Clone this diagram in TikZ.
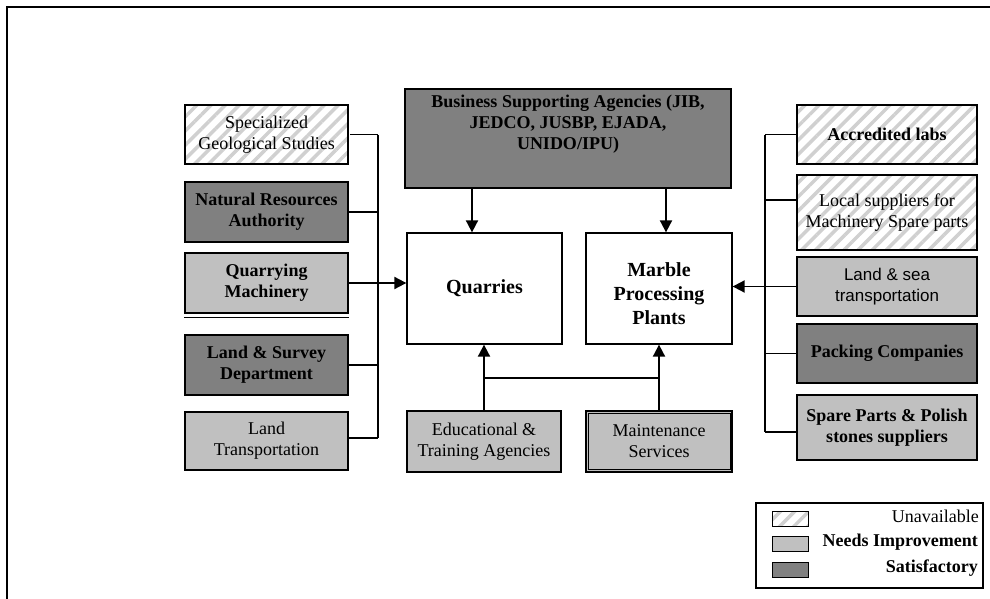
\documentclass[tikz,border=0pt]{standalone}
\usepackage{fontspec}
\setmainfont{Liberation Serif}
\newfontfamily\arialf{Liberation Sans}
\usetikzlibrary{arrows.meta,patterns.meta,calc}
\definecolor{darkg}{RGB}{128,128,128}
\definecolor{lightg}{RGB}{192,192,192}
\definecolor{hatchg}{RGB}{208,208,208}
\begin{document}
\begin{tikzpicture}[x=1pt,y=-1pt,
  box/.style={draw, line width=1.3pt, inner sep=2pt, align=center,
    font=\fontsize{18}{21}\selectfont},
  darkbox/.style={box, fill=darkg},
  lightbox/.style={box, fill=lightg},
  hatchbox/.style={box, pattern={Lines[angle=45,distance=10pt,line width=3.5pt]}, pattern color=hatchg},
  bigbox/.style={box, font=\fontsize{20}{24}\selectfont\bfseries},
  conn/.style={line width=1.9pt},
  arr/.style={conn, -{Triangle[length=12pt,width=12pt]}},
  legtext/.style={anchor=east, inner sep=0pt, font=\fontsize{18}{21}\selectfont}]
\useasboundingbox (0,0) rectangle (990,599);
% outer frame
\draw[line width=2pt] (6.5,599) -- (6.5,7.5) -- (990,7.5);

% left column
\node[hatchbox, minimum width=163pt, minimum height=59pt] (sgs) at (266.5,134.5) {Specialized\\Geological Studies};
\node[darkbox, minimum width=163pt, minimum height=60pt] (nra) at (266.5,212) {\bfseries Natural Resources\\\bfseries Authority};
\node[lightbox, minimum width=163pt, minimum height=60pt] (qm) at (266.5,283) {\bfseries Quarrying\\\bfseries Machinery};
\draw[line width=1.2pt] (qm.south west) ++(0,3.5) coordinate (qmb) -- (qmb -| qm.south east);
\node[darkbox, minimum width=163pt, minimum height=60pt] (lsd) at (266.5,365) {\bfseries Land \& Survey\\\bfseries Department};
\node[lightbox, minimum width=163pt, minimum height=58pt] (lt) at (266.5,441) {Land\\Transportation};

% top
\node[darkbox, minimum width=326pt, minimum height=99pt] (bsa) at (568,138.5) {};
\node[align=center, inner sep=0pt, font=\fontsize{18}{21}\selectfont\bfseries] (bsat) at (568,124) {Business Supporting Agencies (JIB,\\JEDCO, JUSBP, EJADA,\\UNIDO/IPU)};

% centre
\node[bigbox, minimum width=155pt, minimum height=111pt] (q) at (484.5,288.5) {Quarries};
\node[box, minimum width=146pt, minimum height=111pt] (mp) at (659,288.5) {};
\node[align=center, inner sep=0pt, font=\fontsize{20}{24}\selectfont\bfseries] (mpt) at (659,294) {Marble\\Processing\\Plants};

% bottom
\node[lightbox, minimum width=154pt, minimum height=61pt] (ed) at (484,441.5) {Educational \&\\Training Agencies};
\node[lightbox, line width=1.6pt, minimum width=146pt, minimum height=61pt] (mt) at (659,441.5) {Maintenance\\Services};
\draw[line width=0.6pt] ($(mt.north west)+(3,3)$) rectangle ($(mt.south east)+(-3,-3.5)$);

% right column
\node[hatchbox, minimum width=180pt, minimum height=59pt] (al) at (887,134.5) {\bfseries Accredited labs};
\node[hatchbox, minimum width=180pt, minimum height=75pt] (ls) at (887,212.5) {Local suppliers for\\Machinery Spare parts};
\node[lightbox, minimum width=180pt, minimum height=59pt, font=\arialf\fontsize{17}{21}\selectfont] (lst) at (887,286.5) {Land \& sea\\transportation};
\node[darkbox, minimum width=180pt, minimum height=59pt] (pc) at (887,353.5) {\bfseries Packing Companies};
\node[lightbox, minimum width=180pt, minimum height=65pt] (sp) at (887,427.5) {\bfseries Spare Parts \& Polish\\\bfseries stones suppliers};

% left connectors
\coordinate (ltop) at (378,135);
\coordinate (lbot) at (378,438);
\draw[conn] (ltop) -- (lbot);
\draw[conn] (sgs.east) -- (sgs.east -| ltop);
\draw[conn] (nra.east) -- (nra.east -| ltop);
\draw[conn] (lsd.east) -- (lsd.east -| ltop);
\draw[conn] (lt.east |- lbot) -- (lbot);
\draw[arr] (qm.east) -- (qm.east -| q.west);

% right connectors
\coordinate (rtop) at (765,135);
\coordinate (rbot) at (765,432);
\coordinate (rls) at (765,200);
\draw[conn] (rtop) -- (rbot);
\draw[conn] (al.west) -- (al.west -| rtop);
\draw[conn] (ls.west |- rls) -- (rls);
\draw[conn] (pc.west) -- (pc.west -| rtop);
\draw[conn] (sp.west |- rbot) -- (rbot);
\draw[arr] (lst.west) -- (lst.west -| mp.east);

% top arrows
\coordinate (ba1) at (472,188);
\coordinate (ba2) at (666,188);
\draw[arr] (bsa.south -| ba1) -- (q.north -| ba1);
\draw[arr] (bsa.south -| ba2) -- (mp.north -| ba2);

% bottom arrows
\coordinate (hy) at (0,378);
\draw[arr] (ed.north) -- (ed.north |- q.south);
\draw[arr] (mt.north) -- (mt.north |- mp.south);
\draw[conn] (ed.north |- hy) -- (mt.north |- hy);

% legend
\node[draw, line width=1.2pt, minimum width=227pt, minimum height=85pt] (leg) at (869.5,545.5) {};
\node[hatchbox, minimum width=36pt, minimum height=15pt, inner sep=0pt, line width=1pt] (s1) at (790,518.5) {};
\node[lightbox, minimum width=36pt, minimum height=15pt, inner sep=0pt, line width=1pt] (s2) at (790,543.5) {};
\node[darkbox, minimum width=36pt, minimum height=15pt, inner sep=0pt, line width=1pt] (s3) at (790,569.5) {};
\node[legtext] (t1) at (979,516) {Unavailable};
\node[legtext] (t2) at (978,542) {\bfseries Needs Improvement};
\node[legtext] (t3) at (978,568) {\bfseries Satisfactory};
\end{tikzpicture}
\end{document}
